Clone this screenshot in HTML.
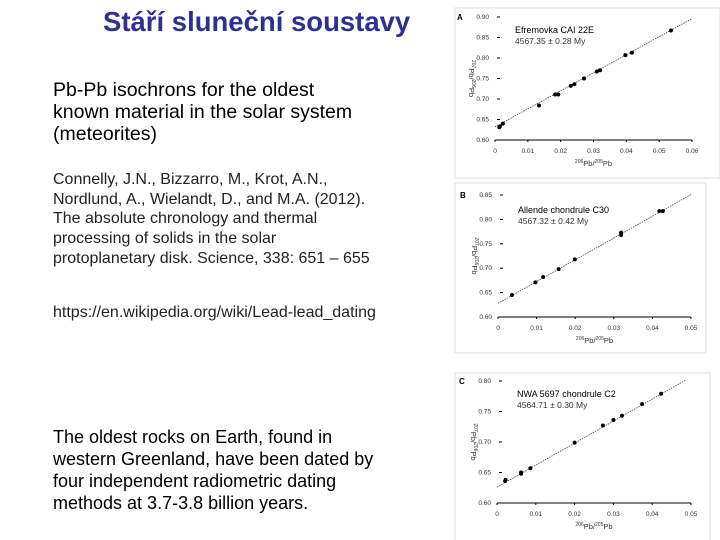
<!DOCTYPE html>
<html><head><meta charset="utf-8">
<style>
body{margin:0;width:720px;height:540px;background:#fff;overflow:hidden;position:relative;font-family:"Liberation Sans",Arial,sans-serif}
.t{position:absolute;color:#000;white-space:nowrap}
#title{left:103px;top:6px;font-size:27.5px;font-weight:bold;color:#2E3192}
.p1{font-size:19.5px;line-height:22px}
.p3{font-size:18px;line-height:22px}
.p2{font-size:16px;line-height:19.7px;color:#222}
svg{position:absolute;left:0;top:0}
</style></head><body>
<div id="title" class="t">Stáří sluneční soustavy</div>
<div class="t p1" style="left:53px;top:79px">Pb-Pb isochrons for the oldest<br>known material in the solar system<br>(meteorites)</div>
<div class="t p2" style="left:53px;top:170px">Connelly, J.N., Bizzarro, M., Krot, A.N.,<br>Nordlund, A., Wielandt, D., and M.A. (2012).<br>The absolute chronology and thermal<br>processing of solids in the solar<br>protoplanetary disk. Science, 338: 651 – 655</div>
<div class="t p2" style="left:53px;top:303px">https://en.wikipedia.org/wiki/Lead-lead_dating</div>
<div class="t p3" style="left:53px;top:426px">The oldest rocks on Earth, found in<br>western Greenland, have been dated by<br>four independent radiometric dating<br>methods at 3.7-3.8 billion years.</div>
<svg id="charts" width="720" height="540"></svg>
<script>
const aX=[0.0013,0.0015,0.0024,0.0134,0.0183,0.0193,0.0231,0.0242,0.0271,0.031,0.032,0.0397,0.0417,0.0536];
const aY=[0.631,0.633,0.640,0.684,0.711,0.711,0.732,0.736,0.750,0.767,0.770,0.807,0.813,0.867];
const aLine=[0,0.632,0.06,0.896];
const aXTicks=["0","0.01","0.02","0.03","0.04","0.05","0.06"];
const aYTicks=["0.60","0.65","0.70","0.75","0.80","0.85","0.90"];
const bX=[0.0036,0.0097,0.0117,0.0157,0.0199,0.0319,0.0319,0.0418,0.0427];
const bY=[0.645,0.671,0.682,0.698,0.718,0.768,0.773,0.817,0.817];
const bLine=[0,0.628,0.05,0.851];
const bXTicks=["0","0.01","0.02","0.03","0.04","0.05"];
const bYTicks=["0.60","0.65","0.70","0.75","0.80","0.85"];
const cX=[0.0021,0.0022,0.0062,0.0062,0.0086,0.020,0.0273,0.030,0.0322,0.0374,0.0423];
const cY=[0.636,0.638,0.648,0.650,0.657,0.699,0.727,0.736,0.743,0.762,0.779];
const cLine=[0,0.626,0.0485,0.801];
const cXTicks=["0","0.01","0.02","0.03","0.04","0.05"];
const cYTicks=["0.60","0.65","0.70","0.75","0.80"];
const NS="http://www.w3.org/2000/svg";
const svg=document.getElementById('charts');
function mk(tag,attrs,parent){const e=document.createElementNS(NS,tag);for(const k in attrs)e.setAttribute(k,attrs[k]);(parent||svg).appendChild(e);return e;}
function panel(o){
  const g=mk('g',{});
  
  
  const fr=mk('rect',{x:o.frame[0],y:o.frame[1],width:o.frame[2],height:o.frame[3],fill:'none',stroke:'#ddd','stroke-width':1},g);
  
  
  const xmax=parseFloat(o.xt[o.xt.length-1]),ymin=parseFloat(o.yt[0]),ymax=parseFloat(o.yt[o.yt.length-1]);
  const sx=v=>o.x0+(v/xmax)*(o.x1-o.x0);
  const sy=v=>o.yb-(v-ymin)/(ymax-ymin)*(o.yb-o.yt0);
  const ax=mk('line',{x1:o.x0,y1:o.yb,x2:o.x1,y2:o.yb,stroke:'#000','stroke-width':1},g);
  
  
  o.xt.forEach(t=>{const x=sx(parseFloat(t));
    mk('line',{x1:x,y1:o.yb,x2:x,y2:o.yb+2,stroke:'#000'},g);
    const tx=mk('text',{x:x,y:o.yb+13,'font-size':6.5,'text-anchor':'middle',fill:'#333'},g);tx.textContent=t;
    
    });
  o.yt.forEach(t=>{const y=sy(parseFloat(t));
    mk('line',{x1:o.x0+2,y1:y,x2:o.x0+5,y2:y,stroke:'#000'},g);
    const tx=mk('text',{x:o.x0-6,y:y+2,'font-size':6.5,'text-anchor':'end',fill:'#333'},g);tx.textContent=t;
    
    });
  const lt=mk('text',{x:o.x0-38,y:sy(ymax)+3,'font-size':8,'font-weight':'bold'},g);lt.textContent=o.id;
  
  
  const fl=mk('line',{x1:sx(o.line[0]),y1:sy(o.line[1]),x2:sx(o.line[2]),y2:sy(o.line[3]),stroke:'#444','stroke-width':0.8,'stroke-dasharray':'1.5,1'},g);
  
  
  o.xs.forEach((v,i)=>{const c=mk('circle',{cx:sx(v),cy:sy(o.ys[i]),r:2,fill:'#000'},g);
    
    });
  const n1=mk('text',{x:o.x0+20,y:o.ann,'font-size':9,fill:'#000'},g);n1.textContent=o.name;
  
  
  const n2=mk('text',{x:o.x0+20,y:o.ann+11,'font-size':8.5,fill:'#333'},g);n2.textContent=o.age;
  
  
  const xl=mk('text',{x:(o.x0+o.x1)/2,y:o.yb+26,'font-size':7.5,'text-anchor':'middle',fill:'#333'},g);
  xl.innerHTML='<tspan font-size="5" dy="-3">206</tspan><tspan dy="3">Pb/</tspan><tspan font-size="5" dy="-3">205</tspan><tspan dy="3">Pb</tspan>';
  
  
  const yc=(o.yb+o.yt0)/2,yx=o.x0-26;
  const yl=mk('text',{x:yx,y:yc,'font-size':7.5,'text-anchor':'middle',fill:'#333',transform:`rotate(90 ${yx} ${yc})`},g);
  yl.innerHTML='<tspan font-size="5" dy="-3">207</tspan><tspan dy="3">Pb/</tspan><tspan font-size="5" dy="-3">206</tspan><tspan dy="3">Pb</tspan>';
  
  
}
panel({id:'A',frame:[455,8,265,170],x0:495,x1:692,yb:140,yt0:17,xt:aXTicks,yt:aYTicks,xs:aX,ys:aY,line:aLine,name:'Efremovka CAI 22E',age:'4567.35 ± 0.28 My',ann:33});
panel({id:'B',frame:[455,183,251,170],x0:498,x1:691,yb:317,yt0:195,xt:bXTicks,yt:bYTicks,xs:bX,ys:bY,line:bLine,name:'Allende chondrule C30',age:'4567.32 ± 0.42 My',ann:213});
panel({id:'C',frame:[455,373,255,170],x0:497,x1:691,yb:503,yt0:381,xt:cXTicks,yt:cYTicks,xs:cX,ys:cY,line:cLine,name:'NWA 5697 chondrule C2',age:'4564.71 ± 0.30 My',ann:397});
</script>
</body></html>
